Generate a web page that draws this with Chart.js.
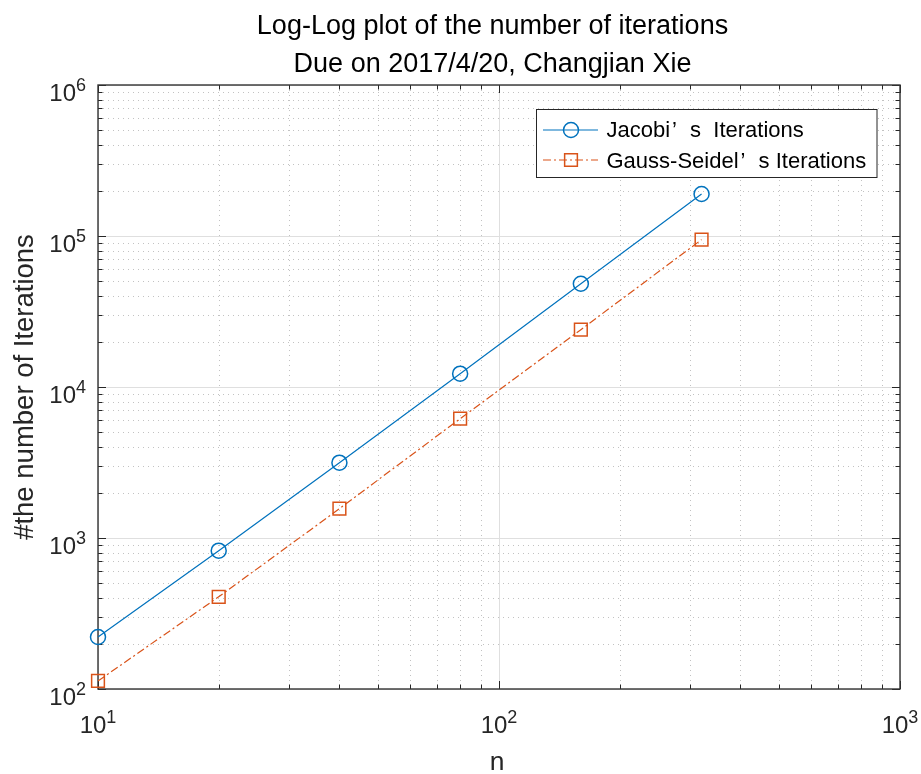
<!DOCTYPE html>
<html>
<head>
<meta charset="utf-8">
<script src="https://cdn.jsdelivr.net/npm/chart.js@4/dist/chart.umd.min.js"></script>
<style>
  html, body { margin: 0; padding: 0; background: #ffffff; }
  #wrap { width: 921px; height: 774px; }
</style>
</head>
<body>
<div id="wrap"><canvas id="c" width="921" height="774"></canvas></div>
<script>
// ---------- data ----------
const nValues = [10, 20, 40, 80, 160, 320];
const jacobiIters = [221, 824, 3155, 12250, 48300, 189800];
const gaussSeidelIters = [113, 408, 1563, 6166, 23980, 94600];
const xTickExponents = [1, 2, 3];
const yTickExponents = [2, 3, 4, 5, 6];
const minorMultipliers = [2, 3, 4, 5, 6, 7, 8, 9];
const titleLines = ['Log-Log plot of the number of iterations', 'Due on 2017/4/20, Changjian Xie'];
const xLabel = 'n';
const yLabel = '#the number of Iterations';
const seriesNames = [['Jacobi', '\u2019', 's  Iterations'], ['Gauss-Seidel', '\u2019', 's Iterations']];

const FONT = "'Liberation Sans', Arial, Helvetica, sans-serif";
const AX = '#262626';

function pts(xs, ys) { return xs.map((v, i) => ({ x: v, y: ys[i] })); }

function drawPow(ctx, exp, x, baseY, align) {
  const base = '10', e = String(exp);
  ctx.font = '24px ' + FONT;
  const w1 = ctx.measureText(base).width;
  ctx.font = '18px ' + FONT;
  const w2 = ctx.measureText(e).width;
  let sx = align === 'right' ? x - (w1 + w2) : x - (w1 + w2) / 2;
  ctx.textAlign = 'left';
  ctx.textBaseline = 'alphabetic';
  ctx.font = '24px ' + FONT;
  ctx.fillText(base, sx, baseY);
  ctx.font = '18px ' + FONT;
  ctx.fillText(e, sx + w1, baseY - 10);
}

const axesPlugin = {
  id: 'matlabAxes',
  beforeDatasetsDraw(chart) {
    const { ctx, chartArea: a, scales: { x, y } } = chart;
    ctx.save();
    const xMajors = xTickExponents.map(e => Math.pow(10, e));
    const yMajors = yTickExponents.map(e => Math.pow(10, e));
    const xMinors = [], yMinors = [];
    xTickExponents.slice(0, -1).forEach(e => minorMultipliers.forEach(m => xMinors.push(m * Math.pow(10, e))));
    yTickExponents.slice(0, -1).forEach(e => minorMultipliers.forEach(m => yMinors.push(m * Math.pow(10, e))));

    // minor grid (dotted)
    ctx.lineWidth = 1;
    ctx.strokeStyle = '#c2c2c2';
    ctx.setLineDash([1, 4]);
    ctx.beginPath();
    xMinors.forEach(v => { const p = Math.round(x.getPixelForValue(v)) + 0.5; ctx.moveTo(p, a.top); ctx.lineTo(p, a.bottom); });
    yMinors.forEach(v => { const p = Math.round(y.getPixelForValue(v)) + 0.5; ctx.moveTo(a.left, p); ctx.lineTo(a.right, p); });
    ctx.stroke();

    // major grid (solid, light)
    ctx.setLineDash([]);
    ctx.strokeStyle = '#dfdfdf';
    ctx.beginPath();
    xMajors.forEach(v => { const p = Math.round(x.getPixelForValue(v)) + 0.5; ctx.moveTo(p, a.top); ctx.lineTo(p, a.bottom); });
    yMajors.forEach(v => { const p = Math.round(y.getPixelForValue(v)) + 0.5; ctx.moveTo(a.left, p); ctx.lineTo(a.right, p); });
    ctx.stroke();

    // tick marks (inside, all four sides)
    ctx.strokeStyle = AX;
    ctx.lineWidth = 1;
    ctx.beginPath();
    const tickX = (v, len) => { const p = Math.round(x.getPixelForValue(v)) + 0.5;
      ctx.moveTo(p, a.bottom); ctx.lineTo(p, a.bottom - len); ctx.moveTo(p, a.top); ctx.lineTo(p, a.top + len); };
    const tickY = (v, len) => { const p = Math.round(y.getPixelForValue(v)) + 0.5;
      ctx.moveTo(a.left, p); ctx.lineTo(a.left + len, p); ctx.moveTo(a.right, p); ctx.lineTo(a.right - len, p); };
    xMajors.forEach(v => tickX(v, 8));
    xMinors.forEach(v => tickX(v, 4.5));
    yMajors.forEach(v => tickY(v, 8));
    yMinors.forEach(v => tickY(v, 4.5));
    ctx.stroke();

    // box
    ctx.lineWidth = 1.4;
    ctx.strokeStyle = '#333333';
    ctx.strokeRect(a.left, a.top, a.right - a.left, a.bottom - a.top);

    // tick labels
    ctx.fillStyle = AX;
    xTickExponents.forEach(e => drawPow(ctx, e, x.getPixelForValue(Math.pow(10, e)), a.bottom + 44, 'center'));
    yTickExponents.forEach(e => drawPow(ctx, e, a.left - 12, y.getPixelForValue(Math.pow(10, e)) + 16, 'right'));

    // axis labels
    ctx.font = '26.4px ' + FONT;
    ctx.textAlign = 'center';
    ctx.textBaseline = 'alphabetic';
    ctx.fillText(xLabel, (a.left + a.right) / 2 - 2, 770);
    ctx.font = '27.5px ' + FONT;
    ctx.save();
    ctx.translate(33, (a.top + a.bottom) / 2);
    ctx.rotate(-Math.PI / 2);
    ctx.fillText(yLabel, 0, 0);
    ctx.restore();

    // title
    ctx.fillStyle = '#000000';
    ctx.font = '27px ' + FONT;
    ctx.fillText(titleLines[0], 492.5, 34);
    ctx.fillText(titleLines[1], 492.5, 71.7);
    ctx.restore();
  },
  afterDatasetsDraw(chart) {
    const { ctx } = chart;
    ctx.save();
    const bx = 536.5, by = 109.5, bw = 340.5, bh = 68;
    ctx.fillStyle = '#ffffff';
    ctx.fillRect(bx, by, bw, bh);
    ctx.strokeStyle = AX;
    ctx.lineWidth = 1;
    ctx.strokeRect(bx, by, bw, bh);
    const rows = [130, 160];
    const baselines = [137, 167.5];
    chart.data.datasets.forEach((ds, i) => {
      const ly = rows[i];
      ctx.strokeStyle = ds.borderColor;
      ctx.lineWidth = ds.borderWidth;
      ctx.setLineDash(ds.borderDash || []);
      ctx.beginPath();
      ctx.moveTo(543, ly); ctx.lineTo(598, ly);
      ctx.stroke();
      ctx.setLineDash([]);
      ctx.lineWidth = ds.pointBorderWidth;
      ctx.fillStyle = 'rgba(0,0,0,0)';
      Chart.helpers.drawPoint(ctx, { pointStyle: ds.pointStyle, radius: ds.pointRadius, rotation: 0, borderWidth: ds.pointBorderWidth }, 571, ly);
      // label text (full-width apostrophe spacing as in the original)
      const parts = seriesNames[i];
      ctx.fillStyle = '#000000';
      ctx.font = '22px ' + FONT;
      ctx.textAlign = 'left';
      ctx.textBaseline = 'alphabetic';
      let tx = 606.5;
      ctx.fillText(parts[0], tx, baselines[i]);
      tx += ctx.measureText(parts[0]).width;
      ctx.fillText(parts[1], tx + 2, baselines[i]);
      tx += 20;
      ctx.fillText(parts[2], tx, baselines[i]);
    });
    ctx.restore();
  }
};

new Chart(document.getElementById('c'), {
  type: 'line',
  data: {
    datasets: [
      {
        label: seriesNames[0].join(''),
        data: pts(nValues, jacobiIters),
        borderColor: '#0072BD',
        backgroundColor: 'rgba(0,0,0,0)',
        borderWidth: 1.2,
        pointStyle: 'circle',
        pointRadius: 7.5,
        pointBorderWidth: 1.5,
        pointBorderColor: '#0072BD',
        pointBackgroundColor: 'rgba(0,0,0,0)',
        tension: 0,
        clip: false
      },
      {
        label: seriesNames[1].join(''),
        data: pts(nValues, gaussSeidelIters),
        borderColor: '#D95319',
        backgroundColor: 'rgba(0,0,0,0)',
        borderWidth: 1.2,
        borderDash: [8, 3, 2, 3],
        pointStyle: 'rect',
        pointRadius: 9,
        pointBorderWidth: 1.5,
        pointBorderColor: '#D95319',
        pointBackgroundColor: 'rgba(0,0,0,0)',
        tension: 0,
        clip: false
      }
    ]
  },
  options: {
    responsive: false,
    animation: false,
    devicePixelRatio: 1,
    layout: { padding: { left: 98, right: 21, top: 85, bottom: 85 } },
    scales: {
      x: { type: 'logarithmic', min: 10, max: 1000, display: false },
      y: { type: 'logarithmic', min: 100, max: 1000000, display: false }
    },
    plugins: {
      legend: { display: false },
      tooltip: { enabled: false },
      title: { display: false }
    }
  },
  plugins: [axesPlugin]
});
</script>
</body>
</html>
